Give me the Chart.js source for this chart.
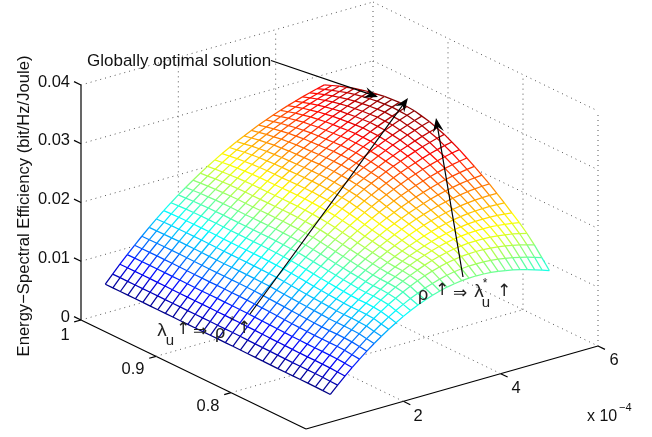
<!DOCTYPE html>
<html>
<head>
<meta charset="utf-8">
<style>
  html, body { margin: 0; padding: 0; background: #fff; }
  #chart { display: block; }
</style>
<script src="https://cdn.jsdelivr.net/npm/chart.js@4/dist/chart.umd.min.js"></script>
</head>
<body>
<canvas id="chart" width="652" height="437"></canvas>
<script>
// tick values of the three axes
const lambdaTicks = [2, 4, 6]
const rhoTicks = [1, 0.9, 0.8]
const zTicks = [0, 0.01, 0.02, 0.03, 0.04]
const zTickLabels = ['0', '0.01', '0.02', '0.03', '0.04']

// surface samples: lambda_u (x 10^-4) and rho
const lambdaValues = [0.5, 0.65, 0.8, 0.95, 1.1, 1.25, 1.4, 1.55, 1.7, 1.85, 2, 2.15, 2.3, 2.45, 2.6, 2.75, 2.9, 3.05, 3.2, 3.35, 3.5, 3.65, 3.8, 3.95, 4.1, 4.25, 4.4, 4.55, 4.7, 4.85, 5]
const rhoValues = [1, 0.99, 0.98, 0.97, 0.96, 0.95, 0.94, 0.93, 0.92, 0.91, 0.9, 0.89, 0.88, 0.87, 0.86, 0.85, 0.84, 0.83, 0.82, 0.81, 0.8, 0.79, 0.78, 0.77, 0.76, 0.75, 0.74, 0.73, 0.72, 0.71, 0.7]

// energy-spectral efficiency x 10^-3, one row per rho
const zRows = [
  [4.91, 6.28, 7.61, 8.89, 10.13, 11.31, 12.46, 13.55, 14.61, 15.61, 16.58, 17.50, 18.38, 19.22, 20.02, 20.78, 21.50, 22.18, 22.83, 23.45, 24.03, 24.58, 25.10, 25.59, 26.04, 26.48, 26.88, 27.26, 27.61, 27.95, 28.25],
  [4.91, 6.29, 7.62, 8.91, 10.15, 11.34, 12.49, 13.60, 14.67, 15.68, 16.66, 17.60, 18.50, 19.35, 20.17, 20.95, 21.69, 22.40, 23.06, 23.71, 24.31, 24.88, 25.42, 25.94, 26.41, 26.88, 27.30, 27.70, 28.07, 28.44, 28.76],
  [4.91, 6.29, 7.63, 8.92, 10.16, 11.36, 12.52, 13.64, 14.72, 15.75, 16.74, 17.70, 18.61, 19.48, 20.31, 21.12, 21.88, 22.61, 23.29, 23.96, 24.58, 25.18, 25.74, 26.28, 26.78, 27.27, 27.71, 28.14, 28.53, 28.92, 29.26],
  [4.91, 6.29, 7.63, 8.92, 10.17, 11.37, 12.54, 13.66, 14.75, 15.79, 16.79, 17.76, 18.68, 19.57, 20.41, 21.24, 22.01, 22.76, 23.47, 24.16, 24.80, 25.42, 26.00, 26.56, 27.08, 27.59, 28.06, 28.51, 28.92, 29.33, 29.69],
  [4.91, 6.29, 7.63, 8.92, 10.17, 11.38, 12.55, 13.68, 14.77, 15.82, 16.83, 17.81, 18.75, 19.65, 20.51, 21.35, 22.14, 22.91, 23.64, 24.35, 25.01, 25.65, 26.25, 26.84, 27.38, 27.91, 28.40, 28.88, 29.31, 29.74, 30.12],
  [4.91, 6.29, 7.62, 8.91, 10.16, 11.38, 12.55, 13.68, 14.77, 15.83, 16.84, 17.83, 18.78, 19.69, 20.56, 21.41, 22.22, 23.00, 23.74, 24.47, 25.15, 25.81, 26.43, 27.03, 27.59, 28.14, 28.65, 29.15, 29.61, 30.06, 30.46],
  [4.90, 6.28, 7.61, 8.90, 10.15, 11.37, 12.54, 13.68, 14.77, 15.83, 16.85, 17.85, 18.80, 19.73, 20.61, 21.47, 22.29, 23.09, 23.84, 24.58, 25.28, 25.96, 26.60, 27.22, 27.80, 28.37, 28.90, 29.42, 29.90, 30.37, 30.79],
  [4.90, 6.27, 7.60, 8.89, 10.13, 11.35, 12.52, 13.66, 14.75, 15.81, 16.83, 17.83, 18.79, 19.72, 20.61, 21.48, 22.31, 23.12, 23.88, 24.64, 25.35, 26.04, 26.70, 27.33, 27.93, 28.52, 29.06, 29.60, 30.09, 30.57, 31.01],
  [4.89, 6.26, 7.58, 8.87, 10.11, 11.32, 12.49, 13.63, 14.72, 15.79, 16.81, 17.81, 18.77, 19.71, 20.61, 21.49, 22.32, 23.14, 23.92, 24.69, 25.41, 26.12, 26.79, 27.44, 28.05, 28.66, 29.22, 29.77, 30.27, 30.77, 31.23],
  [4.89, 6.26, 7.58, 8.86, 10.10, 11.31, 12.48, 13.62, 14.71, 15.79, 16.81, 17.82, 18.78, 19.73, 20.63, 21.52, 22.36, 23.19, 23.98, 24.76, 25.49, 26.21, 26.88, 27.54, 28.16, 28.77, 29.33, 29.88, 30.39, 30.89, 31.34],
  [4.88, 6.25, 7.57, 8.85, 10.09, 11.30, 12.47, 13.61, 14.70, 15.78, 16.81, 17.82, 18.79, 19.74, 20.65, 21.55, 22.40, 23.24, 24.03, 24.82, 25.56, 26.29, 26.97, 27.64, 28.26, 28.87, 29.44, 29.99, 30.50, 31.00, 31.45],
  [4.88, 6.25, 7.57, 8.86, 10.10, 11.31, 12.48, 13.62, 14.71, 15.79, 16.82, 17.83, 18.80, 19.75, 20.66, 21.56, 22.41, 23.25, 24.04, 24.82, 25.56, 26.28, 26.96, 27.62, 28.24, 28.84, 29.40, 29.94, 30.44, 30.93, 31.36],
  [4.88, 6.25, 7.57, 8.86, 10.10, 11.31, 12.48, 13.62, 14.71, 15.79, 16.82, 17.84, 18.81, 19.76, 20.67, 21.56, 22.41, 23.25, 24.04, 24.82, 25.55, 26.27, 26.94, 27.60, 28.21, 28.80, 29.35, 29.89, 30.38, 30.85, 31.27],
  [4.88, 6.25, 7.57, 8.85, 10.09, 11.30, 12.46, 13.60, 14.69, 15.77, 16.79, 17.80, 18.77, 19.71, 20.62, 21.50, 22.34, 23.17, 23.95, 24.72, 25.44, 26.15, 26.80, 27.45, 28.04, 28.62, 29.15, 29.66, 30.13, 30.57, 30.97],
  [4.88, 6.24, 7.56, 8.84, 10.08, 11.28, 12.44, 13.58, 14.67, 15.74, 16.76, 17.76, 18.72, 19.66, 20.56, 21.44, 22.27, 23.09, 23.86, 24.62, 25.33, 26.02, 26.66, 27.29, 27.87, 28.43, 28.94, 29.43, 29.87, 30.29, 30.67],
  [4.88, 6.24, 7.55, 8.83, 10.06, 11.26, 12.41, 13.54, 14.62, 15.68, 16.70, 17.69, 18.64, 19.57, 20.45, 21.32, 22.14, 22.94, 23.70, 24.44, 25.13, 25.80, 26.42, 27.02, 27.58, 28.11, 28.59, 29.05, 29.46, 29.85, 30.19],
  [4.87, 6.23, 7.54, 8.81, 10.03, 11.23, 12.38, 13.50, 14.57, 15.62, 16.63, 17.61, 18.55, 19.47, 20.34, 21.19, 22.00, 22.79, 23.53, 24.25, 24.92, 25.57, 26.17, 26.75, 27.28, 27.78, 28.24, 28.67, 29.05, 29.40, 29.71],
  [4.86, 6.21, 7.51, 8.77, 9.99, 11.17, 12.31, 13.41, 14.47, 15.51, 16.50, 17.46, 18.38, 19.28, 20.13, 20.96, 21.75, 22.51, 23.23, 23.92, 24.56, 25.19, 25.76, 26.31, 26.81, 27.28, 27.71, 28.10, 28.45, 28.77, 29.04],
  [4.84, 6.18, 7.48, 8.73, 9.94, 11.11, 12.23, 13.32, 14.37, 15.39, 16.36, 17.30, 18.20, 19.08, 19.92, 20.73, 21.49, 22.23, 22.92, 23.58, 24.20, 24.80, 25.35, 25.86, 26.33, 26.77, 27.17, 27.53, 27.85, 28.13, 28.36],
  [4.83, 6.16, 7.45, 8.69, 9.88, 11.04, 12.14, 13.21, 14.24, 15.24, 16.20, 17.12, 18.00, 18.85, 19.66, 20.45, 21.18, 21.89, 22.55, 23.19, 23.78, 24.34, 24.85, 25.33, 25.76, 26.16, 26.52, 26.84, 27.12, 27.36, 27.55],
  [4.82, 6.14, 7.41, 8.64, 9.82, 10.96, 12.05, 13.10, 14.11, 15.09, 16.03, 16.93, 17.79, 18.62, 19.40, 20.16, 20.87, 21.55, 22.18, 22.79, 23.35, 23.87, 24.35, 24.79, 25.19, 25.55, 25.87, 26.15, 26.39, 26.59, 26.74],
  [4.81, 6.12, 7.39, 8.60, 9.77, 10.90, 11.98, 13.02, 14.01, 14.97, 15.89, 16.77, 17.61, 18.42, 19.18, 19.91, 20.60, 21.25, 21.85, 22.42, 22.95, 23.43, 23.87, 24.27, 24.63, 24.94, 25.21, 25.44, 25.63, 25.77, 25.87],
  [4.79, 6.10, 7.36, 8.56, 9.72, 10.83, 11.90, 12.93, 13.91, 14.85, 15.75, 16.61, 17.43, 18.22, 18.96, 19.66, 20.32, 20.94, 21.51, 22.05, 22.54, 22.99, 23.39, 23.75, 24.06, 24.33, 24.55, 24.73, 24.86, 24.95, 25.00],
  [4.78, 6.08, 7.34, 8.53, 9.68, 10.78, 11.84, 12.85, 13.82, 14.74, 15.63, 16.47, 17.27, 18.03, 18.74, 19.41, 20.04, 20.63, 21.16, 21.66, 22.11, 22.51, 22.86, 23.17, 23.42, 23.63, 23.80, 23.91, 23.98, 24.01, 24.00],
  [4.77, 6.06, 7.31, 8.50, 9.64, 10.73, 11.77, 12.77, 13.72, 14.63, 15.50, 16.32, 17.10, 17.83, 18.52, 19.16, 19.76, 20.31, 20.81, 21.26, 21.67, 22.02, 22.33, 22.58, 22.78, 22.93, 23.04, 23.09, 23.10, 23.07, 22.99],
  [4.77, 6.06, 7.31, 8.49, 9.63, 10.71, 11.75, 12.74, 13.68, 14.58, 15.44, 16.24, 17.00, 17.71, 18.38, 18.99, 19.56, 20.07, 20.53, 20.93, 21.29, 21.59, 21.84, 22.02, 22.16, 22.24, 22.28, 22.26, 22.19, 22.08, 21.92],
  [4.78, 6.07, 7.32, 8.50, 9.64, 10.73, 11.77, 12.76, 13.70, 14.60, 15.45, 16.24, 16.99, 17.68, 18.33, 18.91, 19.45, 19.92, 20.34, 20.69, 21.00, 21.23, 21.42, 21.53, 21.60, 21.60, 21.56, 21.45, 21.30, 21.11, 20.87],
  [4.77, 6.06, 7.31, 8.49, 9.63, 10.71, 11.74, 12.72, 13.66, 14.54, 15.38, 16.15, 16.88, 17.54, 18.16, 18.71, 19.21, 19.63, 20.00, 20.29, 20.54, 20.71, 20.83, 20.87, 20.86, 20.79, 20.67, 20.49, 20.27, 20.00, 19.69],
  [4.76, 6.04, 7.28, 8.45, 9.58, 10.65, 11.67, 12.64, 13.56, 14.42, 15.23, 15.97, 16.67, 17.29, 17.87, 18.36, 18.81, 19.17, 19.49, 19.71, 19.89, 19.98, 20.03, 19.99, 19.91, 19.76, 19.56, 19.31, 19.02, 18.69, 18.32],
  [4.73, 5.99, 7.21, 8.35, 9.44, 10.47, 11.46, 12.38, 13.26, 14.07, 14.84, 15.53, 16.17, 16.73, 17.25, 17.68, 18.07, 18.36, 18.61, 18.77, 18.88, 18.90, 18.88, 18.78, 18.64, 18.43, 18.18, 17.89, 17.55, 17.19, 16.78],
  [4.70, 5.94, 7.13, 8.24, 9.31, 10.31, 11.26, 12.14, 12.98, 13.74, 14.46, 15.10, 15.69, 16.19, 16.65, 17.01, 17.33, 17.55, 17.72, 17.80, 17.84, 17.79, 17.70, 17.53, 17.32, 17.06, 16.75, 16.41, 16.03, 15.64, 15.20]
]

// view of the 3d box on the page
function project(lam, rho, z) {
  const r = (rho - 0.7) / 0.3
  return {
    x: 306 + lam / 6 * 292 - r * 225,
    y: 429 - lam / 6 * 83 - r * 109 - z / 0.04 * 235
  }
}

const allZ = zRows.flat()
const zMin = Math.min(...allZ)
const zMax = Math.max(...allZ)

function clamp01(v) {
  return Math.max(0, Math.min(1, v))
}

function jet(z) {
  const t = (z - zMin) / (zMax - zMin)
  const r = clamp01(1.5 - Math.abs(4 * t - 3))
  const g = clamp01(1.5 - Math.abs(4 * t - 2))
  const b = clamp01(1.5 - Math.abs(4 * t - 1))
  return `rgb(${Math.round(r * 255)},${Math.round(g * 255)},${Math.round(b * 255)})`
}

function surfacePoint(i, j) {
  const z = zRows[i][j]
  return { ...project(lambdaValues[j], rhoValues[i], z / 1000), z }
}

const datasets = []

function addPlain(points, color, width, dash, order) {
  datasets.push({
    data: points,
    showLine: true,
    pointRadius: 0,
    borderColor: color,
    borderWidth: width,
    borderDash: dash,
    tension: 0,
    order
  })
}

// dotted grid on the floor and the two back walls
const gridColor = '#555'
const gridDash = [1, 4]
function addGrid(a, b) {
  addPlain([project(...a), project(...b)], gridColor, 1, gridDash, 5)
}
zTicks.forEach(z => {
  addGrid([0, 1, z], [6, 1, z])
  addGrid([6, 1, z], [6, 0.7, z])
})
;[2, 4].forEach(lam => {
  addGrid([lam, 0.7, 0], [lam, 1, 0])
  addGrid([lam, 1, 0], [lam, 1, 0.04])
})
;[0.8, 0.9].forEach(rho => {
  addGrid([0, rho, 0], [6, rho, 0])
  addGrid([6, rho, 0], [6, rho, 0.04])
})
addGrid([6, 1, 0], [6, 1, 0.04])
addGrid([6, 0.7, 0], [6, 0.7, 0.04])

// solid axes and their ticks
const axisColor = '#000'
function addAxis(a, b) {
  addPlain([project(...a), project(...b)], axisColor, 1.2, [], 5)
}
addAxis([0, 1, 0], [0, 1, 0.04])
addAxis([0, 1, 0], [0, 0.7, 0])
addAxis([0, 0.7, 0], [6, 0.7, 0])
zTicks.forEach(z => addAxis([0, 1, z], [0, 1.0093, z]))
rhoTicks.forEach(rho => addAxis([0, rho, 0], [-0.14, rho, 0]))
lambdaTicks.forEach(lam => addAxis([lam, 0.7, 0], [lam, 0.6907, 0]))

// white sheet under the mesh hides the grid behind the surface
const outline = []
lambdaValues.forEach((_, j) => outline.push(surfacePoint(0, j)))
rhoValues.forEach((_, i) => outline.push(surfacePoint(i, lambdaValues.length - 1)))
lambdaValues.forEach((_, j) => outline.push(surfacePoint(rhoValues.length - 1, lambdaValues.length - 1 - j)))
rhoValues.forEach((_, i) => outline.push(surfacePoint(rhoValues.length - 1 - i, 0)))
datasets.push({
  data: outline,
  showLine: true,
  pointRadius: 0,
  borderWidth: 0,
  borderColor: '#fff',
  backgroundColor: '#fff',
  fill: 'shape',
  tension: 0,
  order: 3
})

// mesh lines, each piece coloured by its height
function addMesh(points) {
  datasets.push({
    data: points,
    showLine: true,
    pointRadius: 0,
    borderWidth: 1.25,
    tension: 0,
    order: 1,
    segment: {
      borderColor: ctx => {
        const d = ctx.chart.data.datasets[ctx.datasetIndex].data
        return jet((d[ctx.p0DataIndex].z + d[ctx.p1DataIndex].z) / 2)
      }
    }
  })
}
rhoValues.forEach((_, i) => addMesh(lambdaValues.map((_, j) => surfacePoint(i, j))))
lambdaValues.forEach((_, j) => addMesh(rhoValues.map((_, i) => surfacePoint(i, j))))

// annotation arrows: from, to
const arrows = [
  [[271, 60.5], [378, 97]],
  [[250, 314], [408, 98]],
  [[463, 277], [436, 118]]
]

const textFont = '"Liberation Sans", Arial, sans-serif'
const symbolFont = '"DejaVu Sans", sans-serif'

const labelsPlugin = {
  id: 'labels3d',
  afterDatasetsDraw(chart) {
    const c = chart.ctx
    const sx = chart.scales.x
    const sy = chart.scales.y
    const put = (str, x, y, size, align = 'center', color = '#111', family = textFont) => {
      c.font = `${size}px ${family}`
      c.textAlign = align
      c.textBaseline = 'middle'
      c.fillStyle = color
      c.fillText(str, x, y)
    }

    c.save()
    // arrows
    arrows.forEach(([from, to]) => {
      const x0 = sx.getPixelForValue(from[0])
      const y0 = sy.getPixelForValue(from[1])
      const x1 = sx.getPixelForValue(to[0])
      const y1 = sy.getPixelForValue(to[1])
      const a = Math.atan2(y1 - y0, x1 - x0)
      c.strokeStyle = '#000'
      c.lineWidth = 1.2
      c.beginPath()
      c.moveTo(x0, y0)
      c.lineTo(x1 - 8 * Math.cos(a), y1 - 8 * Math.sin(a))
      c.stroke()
      c.fillStyle = '#000'
      c.beginPath()
      c.moveTo(x1, y1)
      c.lineTo(x1 - 14 * Math.cos(a) + 5.5 * Math.sin(a), y1 - 14 * Math.sin(a) - 5.5 * Math.cos(a))
      c.lineTo(x1 - 9 * Math.cos(a), y1 - 9 * Math.sin(a))
      c.lineTo(x1 - 14 * Math.cos(a) - 5.5 * Math.sin(a), y1 - 14 * Math.sin(a) + 5.5 * Math.cos(a))
      c.closePath()
      c.fill()
    })

    // tick labels
    zTickLabels.forEach((s, i) => {
      const p = project(0, 1, zTicks[i])
      put(s, 70, p.y - 3, 16.5, 'right')
    })
    put('1', 65, 335, 16.5)
    put('0.9', 133, 369, 16.5)
    put('0.8', 208, 406, 16.5)
    put('2', 418, 416, 16.5)
    put('4', 516, 388, 16.5)
    put('6', 614, 360, 16.5)
    put('x 10', 587, 417, 16, 'left')
    put('\u22124', 619, 408, 11, 'left')

    // text on the plot
    put('Globally optimal solution', 87, 61, 17, 'left')

    const noteColor = '#222'
    put('\u03bb', 162, 331, 19, 'center', noteColor)
    put('u', 170, 341, 15, 'center', noteColor)
    put('\u2191', 183, 330, 17, 'center', noteColor, symbolFont)
    put('\u21d2', 200, 332, 17, 'center', noteColor, symbolFont)
    put('\u03c1', 220, 333, 18, 'center', noteColor)
    put('*', 232, 322, 12, 'center', noteColor)
    put('\u2191', 244, 329, 17, 'center', noteColor, symbolFont)

    put('\u03c1', 423, 295, 18, 'center', noteColor)
    put('\u2191', 442, 291, 17, 'center', noteColor, symbolFont)
    put('\u21d2', 460, 294, 17, 'center', noteColor, symbolFont)
    put('\u03bb', 479, 292, 19, 'center', noteColor)
    put('*', 485, 284, 12, 'center', noteColor)
    put('u', 486, 303, 15, 'center', noteColor)
    put('\u2191', 504, 292, 17, 'center', noteColor, symbolFont)

    // z axis title
    c.translate(24, 206)
    c.rotate(-Math.PI / 2)
    put('Energy\u2212Spectral Efficiency (bit/Hz/Joule)', 0, 0, 16.6)
    c.restore()
  }
}

new Chart(document.getElementById('chart').getContext('2d'), {
  type: 'scatter',
  data: { datasets },
  options: {
    responsive: false,
    animation: false,
    events: [],
    layout: { padding: 0 },
    plugins: {
      legend: { display: false },
      tooltip: { enabled: false },
      filler: { propagate: false }
    },
    scales: {
      x: { type: 'linear', display: false, min: 0, max: 652 },
      y: { type: 'linear', display: false, min: 0, max: 437, reverse: true }
    }
  },
  plugins: [labelsPlugin]
})
</script>
</body>
</html>
